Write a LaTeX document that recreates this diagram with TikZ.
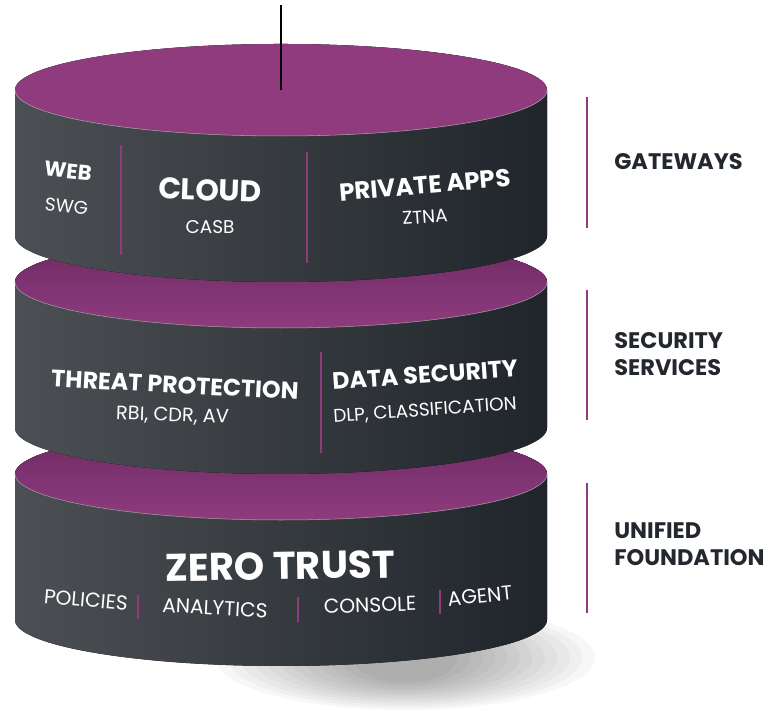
\documentclass[tikz,border=0pt]{standalone}
\usepackage{fontspec}
\setmainfont{Poppins}
\usepackage{xcolor}
\usetikzlibrary{positioning, calc}

\definecolor{zsPurple}{HTML}{8F3B7E}
\definecolor{zsPurpleDark}{HTML}{6C2A63}
\definecolor{zsSideLight}{HTML}{4C5054}
\definecolor{zsSideDark}{HTML}{20252B}
\definecolor{zsLabel}{HTML}{23272E}

\begin{document}
\begin{tikzpicture}[
    head/.style={text=white, font=\bfseries\fontsize{13.5}{15}\selectfont, inner sep=0pt},
    sub/.style={text=white, font=\fontsize{10.5}{12}\selectfont, inner sep=0pt},
    row/.style={text=white, font=\fontsize{11.5}{13}\selectfont, inner sep=0pt},
    sidelabel/.style={text=zsLabel, font=\bfseries\fontsize{12.8}{15.5}\selectfont, align=left, anchor=west, inner sep=0pt},
    divider/.style={zsPurple, line width=1.1pt},
    lowtop/.style={top color=zsPurpleDark, middle color=zsPurpleDark, bottom color=zsPurple},
    toptop/.style={fill=zsPurple}
]
    \useasboundingbox (0,0) rectangle (15.44,14.3);

    % soft shadow under the stack
    \foreach \k in {0,...,11}
        \fill[black, opacity=0.03] (8.1,1.15) ellipse[x radius={3.8-0.25*\k}, y radius={1.05-0.05*\k}];

    % the three layers, bottom one first
    \foreach \yt/\topfill in {4.82/lowtop, 8.66/lowtop, 12.5/toptop} {
        \fill[left color=zsSideLight, right color=zsSideDark]
            (0.30,\yt) -- (0.30,{\yt-2.92})
            arc[start angle=180, end angle=360, x radius=5.32, y radius=0.92]
            -- (10.94,\yt)
            arc[start angle=0, end angle=180, x radius=5.32, y radius=0.92] -- cycle;
        \fill[\topfill] (5.62,\yt) ellipse[x radius=5.32, y radius=0.92];
        \draw[gray!70, line width=0.3pt] (0.30,\yt)
            arc[start angle=180, end angle=360, x radius=5.32, y radius=0.92];
    }

    \draw[black, line width=0.6pt] (5.62,14.2) -- (5.62,12.5);

    % gateways
    \node[head, rotate=-6, font=\bfseries\fontsize{12}{14}\selectfont] (web) at (1.36,10.88) {WEB};
    \node[sub, rotate=-6] (swg) at (1.33,10.18) {SWG};
    \draw[divider] (2.42,11.4) -- (2.42,9.2);
    \node[head, rotate=-2, font=\bfseries\fontsize{17}{19}\selectfont] (cloud) at (4.2,10.5) {CLOUD};
    \node[sub] (casb) at (4.2,9.76) {CASB};
    \draw[divider] (6.14,11.26) -- (6.14,9.04);
    \node[head, rotate=5, font=\bfseries\fontsize{14}{16}\selectfont] (papps) at (8.5,10.6) {PRIVATE APPS};
    \node[sub, rotate=4] (ztna) at (8.5,9.96) {ZTNA};

    % security services
    \node[head, rotate=-3] (threat) at (3.5,6.6) {THREAT PROTECTION};
    \node[sub, rotate=-2, font=\fontsize{11}{12}\selectfont] (rbi) at (3.45,5.98) {RBI, CDR, AV};
    \draw[divider] (6.42,7.26) -- (6.42,5.24);
    \node[head, rotate=4] (datasec) at (8.5,6.8) {DATA SECURITY};
    \node[sub, rotate=4] (dlp) at (8.5,6.08) {DLP, CLASSIFICATION};

    % unified foundation
    \node[head, font=\bfseries\fontsize{22}{24}\selectfont, rotate=1] (zt) at (5.6,2.98) {ZERO TRUST};
    \node[row, rotate=-5] (pol) at (1.72,2.3) {POLICIES};
    \draw[divider, line width=0.8pt] (2.76,2.4) -- (2.76,1.92);
    \node[row, rotate=-3] (ana) at (4.3,2.14) {ANALYTICS};
    \draw[divider, line width=0.8pt] (5.96,2.36) -- (5.96,1.86);
    \node[row, rotate=2] (con) at (7.4,2.2) {CONSOLE};
    \draw[divider, line width=0.8pt] (8.8,2.5) -- (8.8,2.02);
    \node[row, rotate=6] (agent) at (9.6,2.38) {AGENT};

    % side legend
    \draw[divider] (11.74,12.36) -- (11.74,9.74);
    \node[sidelabel] (gw) at (12.28,11.06) {GATEWAYS};
    \draw[divider] (11.74,8.5) -- (11.74,5.9);
    \node[sidelabel] (ss) at (12.28,7.22) {SECURITY\\SERVICES};
    \draw[divider] (11.74,4.64) -- (11.74,2.04);
    \node[sidelabel] (uf) at (12.28,3.42) {UNIFIED\\FOUNDATION};
\end{tikzpicture}
\end{document}
